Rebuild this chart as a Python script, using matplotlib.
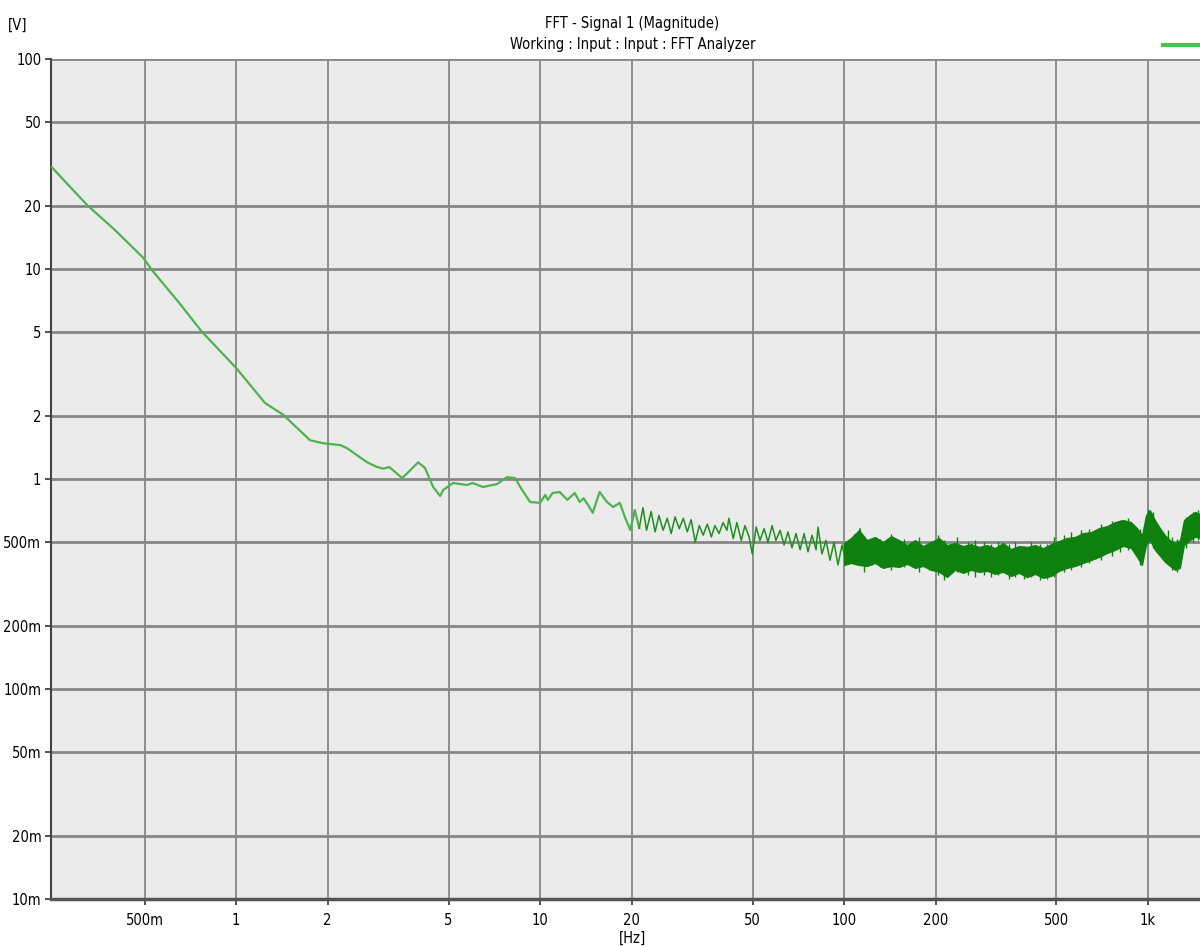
import numpy as np
import matplotlib
matplotlib.use("Agg")
import matplotlib.pyplot as plt
from matplotlib.lines import Line2D

# Low-frequency part of the spectrum [Hz], [V]
freq_smooth = [0.247, 0.323, 0.40, 0.495, 0.528, 0.65, 0.771, 1.0, 1.245, 1.43,
               1.75, 1.93, 2.2, 2.32, 2.70, 2.91, 3.05, 3.19, 3.52, 3.97,
               4.18, 4.45, 4.69, 4.8, 5.17, 5.75, 6.0, 6.49, 7.22, 7.78,
               8.27, 8.73, 9.27, 10.0, 10.4, 10.6, 11.0, 11.6, 12.3, 13.0,
               13.5, 13.9, 14.4, 14.9, 15.7, 16.6, 17.4, 18.3, 19.0, 19.8,
               20.5, 21.2]
mag_smooth = [30.6, 20.2, 15.3, 11.3, 9.9, 6.89, 5.03, 3.38, 2.30, 2.02,
              1.53, 1.48, 1.45, 1.40, 1.20, 1.14, 1.12, 1.14, 1.01, 1.20,
              1.13, 0.916, 0.83, 0.886, 0.957, 0.936, 0.957, 0.916, 0.946, 1.02,
              1.01, 0.886, 0.777, 0.77, 0.84, 0.795, 0.858, 0.867, 0.795, 0.858,
              0.777, 0.81, 0.75, 0.69, 0.867, 0.777, 0.736, 0.77, 0.66, 0.572,
              0.712, 0.584]

# 20..130 Hz, the noisy zigzag (peaks and troughs)
freq_noise = [21.2, 21.8, 22.4, 23.2, 23.9, 24.6, 25.4, 26.2, 27.0, 27.8,
              28.7, 29.6, 30.5, 31.4, 32.4, 33.4, 34.4, 35.5, 36.6, 37.6,
              38.8, 40.0, 41.2, 41.8, 43.2, 44.4, 45.9, 47.2, 48.7, 49.9,
              51.4, 52.9, 54.6, 56.2, 58.0, 59.7, 61.6, 63.5, 65.4, 67.4,
              69.5, 71.7, 73.9, 76.1, 78.5, 80.9, 82.1, 84.6, 87.2, 89.9,
              92.7, 95.5, 98.5, 101.5, 104.6, 107.9, 111.2, 112.9, 116.4, 120.0,
              123.7, 127.5, 131.4]
mag_noise = [0.584, 0.73, 0.57, 0.70, 0.56, 0.67, 0.57, 0.65, 0.55, 0.66,
             0.58, 0.65, 0.56, 0.64, 0.50, 0.60, 0.54, 0.61, 0.53, 0.60,
             0.55, 0.62, 0.57, 0.65, 0.52, 0.62, 0.51, 0.60, 0.53, 0.44,
             0.59, 0.51, 0.58, 0.50, 0.60, 0.51, 0.57, 0.485, 0.56, 0.47,
             0.55, 0.46, 0.55, 0.45, 0.54, 0.46, 0.59, 0.44, 0.51, 0.41,
             0.50, 0.39, 0.485, 0.40, 0.50, 0.40, 0.51, 0.58, 0.41, 0.51,
             0.39, 0.485, 0.40]

# 100 Hz .. right edge: dense band, upper and lower envelope
freq_band = [100, 105.4, 112.0, 119.0, 126.5, 134.4, 142.8, 151.7, 161.2, 171.2,
             181.9, 193.3, 205.3, 218.2, 231.8, 246.3, 261.7, 278.0, 295.4, 313.8,
             333.4, 354.3, 376.4, 399.9, 424.9, 451.4, 479.6, 509.6, 541.5, 575.4,
             611.3, 649.5, 690.1, 733.2, 779.0, 827.8, 879.4, 920.2, 955.6, 984.9,
             1015, 1054, 1095, 1137, 1181, 1227, 1274, 1313, 1375, 1428,
             1483]
band_hi = [0.496, 0.524, 0.572, 0.512, 0.530, 0.501, 0.535, 0.512, 0.485, 0.512,
           0.480, 0.501, 0.524, 0.485, 0.496, 0.480, 0.490, 0.475, 0.485, 0.469,
           0.496, 0.464, 0.480, 0.475, 0.485, 0.469, 0.490, 0.507, 0.524, 0.530,
           0.553, 0.559, 0.584, 0.597, 0.624, 0.638, 0.624, 0.584, 0.541, 0.674,
           0.711, 0.638, 0.584, 0.541, 0.512, 0.496, 0.512, 0.638, 0.674, 0.697,
           0.681]
band_lo = [0.389, 0.398, 0.389, 0.385, 0.398, 0.377, 0.385, 0.381, 0.394, 0.377,
           0.385, 0.369, 0.361, 0.341, 0.369, 0.357, 0.369, 0.361, 0.365, 0.353,
           0.361, 0.345, 0.357, 0.341, 0.353, 0.338, 0.345, 0.365, 0.377, 0.385,
           0.398, 0.411, 0.425, 0.444, 0.459, 0.480, 0.469, 0.425, 0.389, 0.485,
           0.512, 0.459, 0.430, 0.403, 0.385, 0.369, 0.377, 0.485, 0.512, 0.530,
           0.524]

# single noise spikes sticking out of the band
spike_f = [108, 116, 131, 143, 158, 176, 190, 204, 214, 236, 255, 270, 288, 305,
           322, 348, 366, 390, 412, 440, 466, 492, 530, 560, 600, 640, 700, 760,
           810, 860, 940, 1000, 1040, 1120, 1160, 1200, 1250, 1330, 1410, 1460]
spike_top = [0.55, 0.50, 0.52, 0.55, 0.52, 0.53, 0.50, 0.54, 0.51, 0.53, 0.50, 0.51, 0.50, 0.49,
             0.50, 0.49, 0.50, 0.48, 0.50, 0.49, 0.49, 0.53, 0.54, 0.56, 0.57, 0.58, 0.61, 0.63,
             0.64, 0.65, 0.58, 0.72, 0.70, 0.55, 0.57, 0.53, 0.52, 0.66, 0.70, 0.71]
spike_bot = [0.40, 0.36, 0.38, 0.37, 0.38, 0.36, 0.37, 0.35, 0.33, 0.36, 0.35, 0.34, 0.35, 0.34,
             0.35, 0.335, 0.34, 0.335, 0.34, 0.33, 0.335, 0.34, 0.36, 0.37, 0.38, 0.40, 0.41, 0.43,
             0.45, 0.46, 0.39, 0.50, 0.47, 0.42, 0.41, 0.37, 0.36, 0.47, 0.50, 0.51]

x_ticks = [0.5, 1, 2, 5, 10, 20, 50, 100, 200, 500, 1000]
x_labels = ["500m", "1", "2", "5", "10", "20", "50", "100", "200", "500", "1k"]
y_ticks = [0.01, 0.02, 0.05, 0.1, 0.2, 0.5, 1, 2, 5, 10, 20, 50, 100]
y_labels = ["10m", "20m", "50m", "100m", "200m", "500m", "1", "2", "5", "10", "20", "50", "100"]

plt.rcParams['font.family'] = ['DejaVu Sans']
plt.rcParams['font.stretch'] = 'condensed'

fig = plt.figure(figsize=(12, 9.47), dpi=100)
ax = fig.add_axes([0.0425, 0.0507, 0.9575, 0.887])
ax.set_facecolor('#ebebeb')

ax.set_xscale('log')
ax.set_yscale('log')
ax.set_xlim(0.246, 1483)
ax.set_ylim(0.01, 100)

ax.plot(freq_smooth, mag_smooth, color='#4db34d', lw=1.6, zorder=3)
ax.plot(freq_noise, mag_noise, color='#1f8f1f', lw=1.1, zorder=3)
ax.fill_between(freq_band, band_lo, band_hi, color='#0e800e', lw=0.8, zorder=3)
ax.vlines(spike_f, spike_bot, spike_top, color='#0e800e', lw=1.0, zorder=3)

ax.set_xticks(x_ticks)
ax.set_xticklabels(x_labels)
ax.set_yticks(y_ticks)
ax.set_yticklabels(y_labels)
ax.minorticks_off()
ax.tick_params(axis='both', which='major', labelsize=10.5, color='#333333',
               length=4, width=1.2, direction='out')
ax.tick_params(axis='x', pad=6)
ax.tick_params(axis='y', pad=3)

ax.grid(True, axis='y', color='#878787', lw=2.0, zorder=1)
ax.grid(True, axis='x', color='#878787', lw=1.3, zorder=1)
ax.set_axisbelow(True)

for side in ['top', 'right']:
    ax.spines[side].set_visible(False)
ax.spines['left'].set_color('#444444')
ax.spines['left'].set_linewidth(1.5)
ax.spines['bottom'].set_color('#555555')
ax.spines['bottom'].set_linewidth(2.5)

fig.text(0.527, 0.9747, "FFT - Signal 1 (Magnitude)", ha='center', va='center', fontsize=10.5)
fig.text(0.527, 0.9535, "Working : Input : Input : FFT Analyzer", ha='center', va='center', fontsize=10.5)
fig.text(0.015, 0.9736, "[V]", ha='center', va='center', fontsize=10.5)
fig.text(0.527, 0.0095, "[Hz]", ha='center', va='center', fontsize=10.5)

# legend swatch, the label is cut off at the right edge
fig.add_artist(Line2D([0.969, 1.0], [0.9525, 0.9525], color='#4cc24c', lw=3))

fig.savefig("out.png", dpi=100)
